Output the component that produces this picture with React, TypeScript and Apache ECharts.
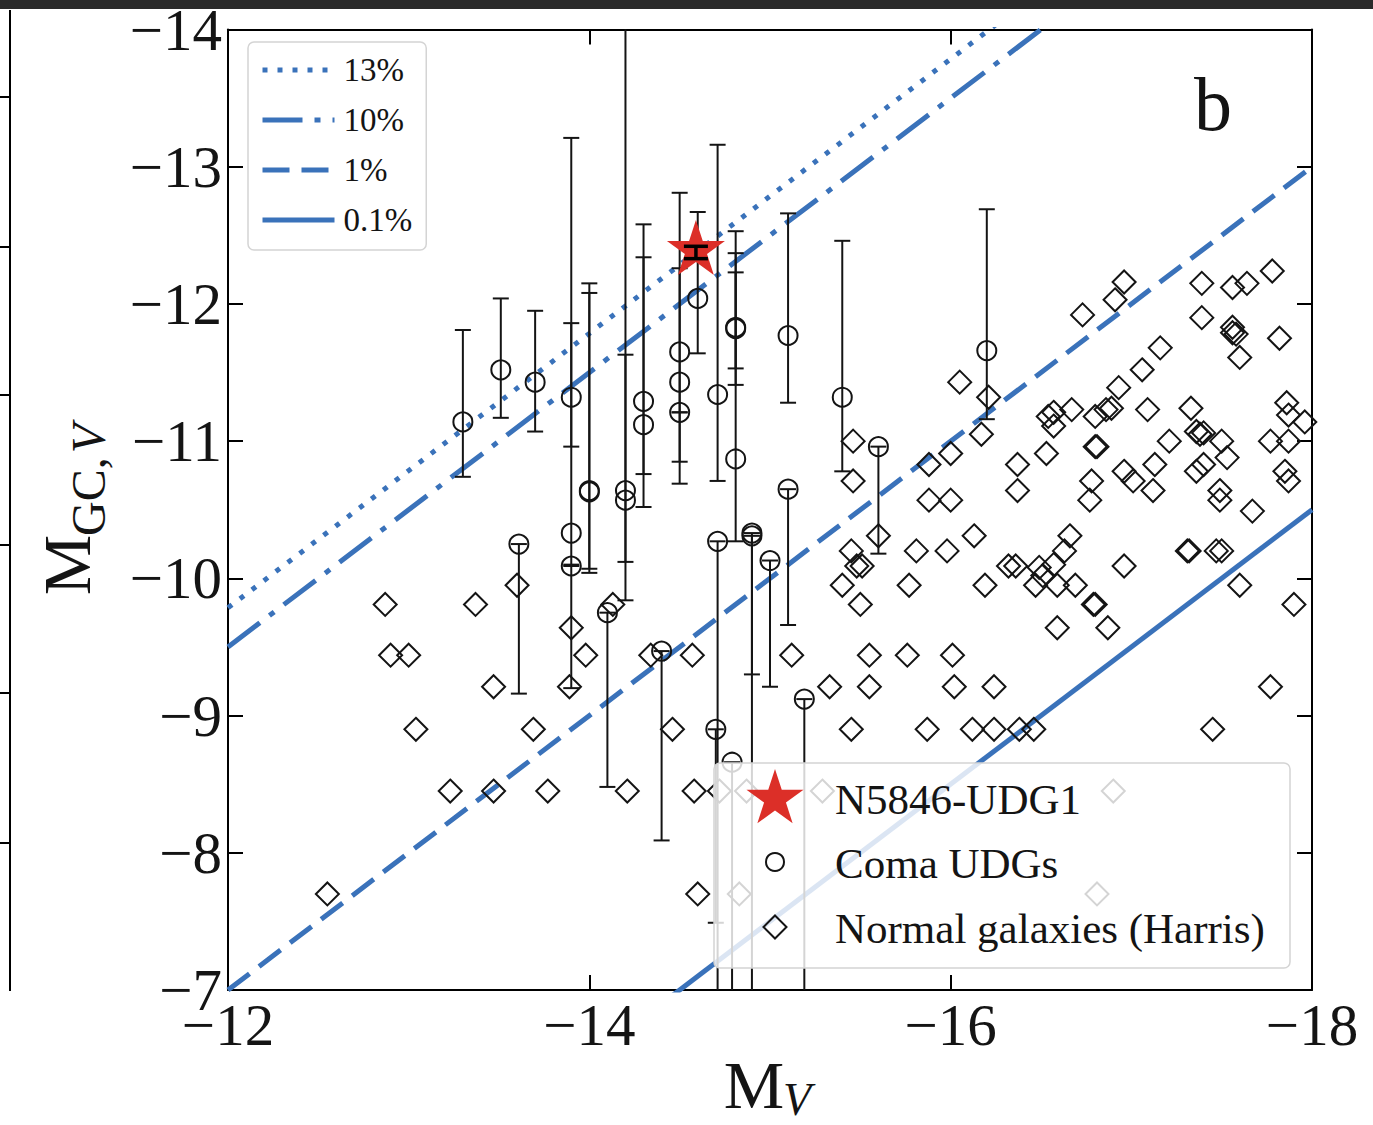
import React, { useEffect, useRef } from 'react';
import * as echarts from 'echarts';

// ---------- data ----------
// Normal galaxies (Harris): [M_V, M_GC,V]
const harrisGalaxies: number[][] = [
  [-12.55, -7.70], [-14.60, -7.70], [-14.83, -7.70], [-16.81, -7.70],
  [-13.23, -8.45], [-13.47, -8.45], [-13.77, -8.45], [-14.21, -8.45], [-14.58, -8.45], [-14.72, -8.45], [-14.87, -8.45], [-15.29, -8.45], [-16.90, -8.45],
  [-13.04, -8.90], [-13.69, -8.90], [-14.46, -8.90], [-15.45, -8.90], [-15.87, -8.90], [-16.12, -8.90], [-16.24, -8.90], [-16.38, -8.90], [-16.46, -8.90], [-17.45, -8.90],
  [-13.47, -9.21], [-13.89, -9.21], [-15.33, -9.21], [-15.55, -9.21], [-16.02, -9.21], [-16.24, -9.21], [-17.77, -9.21],
  [-12.90, -9.44], [-13.00, -9.44], [-13.98, -9.44], [-14.34, -9.44], [-14.57, -9.44], [-15.12, -9.44], [-15.55, -9.44], [-15.76, -9.44], [-16.01, -9.44],
  [-13.90, -9.64], [-16.59, -9.64], [-16.87, -9.64],
  [-12.87, -9.81], [-13.37, -9.81], [-14.13, -9.81], [-15.50, -9.81], [-16.79, -9.81], [-16.80, -9.81], [-17.90, -9.81],
  [-13.60, -9.95], [-15.40, -9.95], [-15.77, -9.95], [-16.19, -9.95], [-16.47, -9.95], [-16.59, -9.95], [-16.69, -9.95], [-17.60, -9.95],
  [-15.48, -10.09], [-15.51, -10.09], [-16.32, -10.09], [-16.36, -10.09], [-16.49, -10.08], [-16.57, -10.10], [-16.96, -10.09], [-16.51, -10.02],
  [-15.45, -10.20], [-15.81, -10.20], [-15.98, -10.20], [-16.63, -10.20], [-17.31, -10.20], [-17.32, -10.20], [-17.47, -10.20], [-17.50, -10.20],
  [-15.60, -10.31], [-16.13, -10.31], [-16.66, -10.31],
  [-17.67, -10.49],
  [-15.88, -10.57], [-16.00, -10.57], [-16.77, -10.57], [-17.49, -10.57],
  [-17.12, -10.64], [-17.49, -10.64], [-16.37, -10.64],
  [-15.46, -10.71], [-16.78, -10.71], [-17.01, -10.71], [-17.87, -10.71],
  [-16.96, -10.78], [-17.36, -10.78], [-17.85, -10.78],
  [-15.88, -10.83], [-16.37, -10.83], [-17.13, -10.83], [-17.40, -10.83],
  [-17.53, -10.88],
  [-16.00, -10.91], [-16.53, -10.91],
  [-16.80, -10.96], [-16.81, -10.96],
  [-15.46, -11.00], [-17.21, -11.00], [-17.50, -11.00], [-17.77, -11.00], [-17.87, -11.00],
  [-16.17, -11.05], [-17.36, -11.07], [-17.38, -11.05], [-17.40, -11.06],
  [-16.57, -11.11],
  [-17.96, -11.14],
  [-16.80, -11.18], [-16.54, -11.18],
  [-16.67, -11.23], [-16.86, -11.23], [-16.89, -11.24], [-17.09, -11.23], [-17.33, -11.24], [-17.86, -11.28], [-17.87, -11.19], [-16.57, -11.21],
  [-16.21, -11.32],
  [-16.93, -11.39],
  [-16.05, -11.43],
  [-17.06, -11.52],
  [-17.60, -11.61],
  [-17.16, -11.68],
  [-17.82, -11.75],
  [-17.56, -11.83], [-17.56, -11.79], [-17.58, -11.78],
  [-17.39, -11.90],
  [-16.73, -11.92],
  [-16.91, -12.03],
  [-16.96, -12.16], [-17.39, -12.15], [-17.56, -12.12], [-17.64, -12.15],
  [-17.78, -12.24],
];

// Coma UDGs: [M_V, M_GC,V, upper end of error bar, lower end of error bar]
const comaUDGs: number[][] = [
  [-13.30, -11.14, -11.81, -10.74],
  [-13.51, -11.52, -12.04, -11.17],
  [-13.61, -10.25, -10.25, -9.16],
  [-13.70, -11.43, -11.95, -11.07],
  [-13.90, -11.32, -11.86, -10.96],
  [-13.90, -10.33, -13.21, -10.10],
  [-13.90, -10.09, -10.09, -9.20],
  [-14.00, -10.64, -12.15, -10.04],
  [-14.00, -10.63, -12.08, -10.07],
  [-14.10, -9.75, -9.75, -8.48],
  [-14.20, -10.64, -14.60, -9.84],
  [-14.20, -10.57, -11.63, -10.12],
  [-14.30, -11.29, -12.58, -10.76],
  [-14.30, -11.12, -12.34, -10.52],
  [-14.40, -9.47, -9.47, -8.09],
  [-14.50, -11.65, -12.81, -10.69],
  [-14.50, -11.43, -12.26, -10.85],
  [-14.50, -11.21, -11.21, -11.21],
  [-14.60, -12.04, -12.67, -11.64],
  [-14.71, -11.34, -13.16, -10.71],
  [-14.71, -10.27, -10.27, -6.80],
  [-14.70, -8.90, -8.90, -7.49],
  [-14.81, -11.83, -12.53, -11.41],
  [-14.81, -11.82, -12.37, -11.53],
  [-14.81, -10.87, -12.23, -10.27],
  [-14.79, -8.66, -8.66, -6.80],
  [-14.90, -10.33, -10.33, -9.30],
  [-14.90, -10.31, -10.31, -6.80],
  [-15.00, -10.13, -10.13, -9.21],
  [-15.10, -11.77, -12.66, -11.28],
  [-15.10, -10.65, -10.65, -9.66],
  [-15.19, -9.12, -9.12, -6.80],
  [-15.40, -11.32, -12.46, -10.78],
  [-15.60, -10.96, -10.96, -10.18],
  [-16.20, -11.66, -12.69, -11.16],
];

// N5846-UDG1: [M_V, M_GC,V, upper, lower]
const n5846UDG1: number[][] = [[-14.59, -12.39, -12.42, -12.33]];

// GC luminosity-fraction lines, endpoints at M_V = -12 and -18
const line13pct = [[-12, -9.785], [-18, -15.785]];
const line10pct = [[-12, -9.5], [-18, -15.5]];
const line1pct = [[-12, -7.0], [-18, -13.0]];
const line01pct = [[-12, -4.5], [-18, -10.5]];

const xTickRange = { min: -18, max: -12, interval: 2 };
const yTickRange = { min: -14, max: -7, interval: 1 };

// ---------- styling ----------
const SERIF = '"Liberation Serif", "Times New Roman", serif';
const BLUE = '#3a72ba';
const INK = '#141414';
const RED = '#dc2f28';
const STAR_PATH =
  'path://M50,0 L61.23,34.55 L97.55,34.55 L68.17,55.9 L79.39,90.45 L50,69.1 L20.61,90.45 L31.83,55.9 L2.45,34.55 L38.77,34.55 Z';

const fmt = (v: number) => String(v).replace('-', '\u2212');

function errRender(capHalf: number, lw: number, color: string) {
  return (params: any, api: any) => {
    const x = api.value(0);
    const top = api.value(2);
    const bot = api.value(3);
    const pT = api.coord([x, top]);
    const pB = api.coord([x, bot]);
    const cs = params.coordSys;
    const yMin = cs.y;
    const yMax = cs.y + cs.height;
    const px = pT[0];
    const y1 = Math.max(yMin, Math.min(pT[1], pB[1]));
    const y2 = Math.min(yMax, Math.max(pT[1], pB[1]));
    const style = { stroke: color, lineWidth: lw };
    const children: any[] = [];
    if (y2 > y1) children.push({ type: 'line', shape: { x1: px, y1, x2: px, y2 }, style });
    [pT[1], pB[1]].forEach((y) => {
      if (y >= yMin - 0.5 && y <= yMax + 0.5)
        children.push({ type: 'line', shape: { x1: px - capHalf, y1: y, x2: px + capHalf, y2: y }, style });
    });
    return { type: 'group', children };
  };
}

function starPoints(cx: number, cy: number, R: number, r: number) {
  const pts: number[][] = [];
  for (let k = 0; k < 10; k++) {
    const a = ((-90 + k * 36) * Math.PI) / 180;
    const rad = k % 2 === 0 ? R : r;
    pts.push([cx + rad * Math.cos(a), cy + rad * Math.sin(a)]);
  }
  return pts;
}

const axisCommon = {
  axisLine: { show: true, lineStyle: { color: '#000', width: 2 } },
  axisTick: { show: true, inside: true, length: 15, lineStyle: { color: '#000', width: 2 } },
  splitLine: { show: false },
};

function buildOption(): any {
  const lineSeries = (name: string, data: number[][], type: any) => ({
    name,
    type: 'line',
    data,
    symbol: 'none',
    clip: true,
    z: 2,
    lineStyle: { color: BLUE, width: 5, type, cap: 'butt' },
    itemStyle: { color: BLUE },
    silent: true,
  });

  const legendBox = { x: 714, y: 763, w: 576, h: 205 };

  return {
    animation: false,
    backgroundColor: '#ffffff',
    grid: { left: 228, top: 22, width: 1084, height: 968, show: false },
    xAxis: [
      {
        type: 'value', ...xTickRange, inverse: true, position: 'bottom', ...axisCommon,
        axisLabel: { formatter: fmt, fontFamily: SERIF, fontSize: 59, color: INK, margin: 5 },
      },
      {
        type: 'value', ...xTickRange, inverse: true, position: 'top', ...axisCommon,
        axisLabel: { show: false },
      },
    ],
    yAxis: [
      {
        type: 'value', ...yTickRange, inverse: true, position: 'left', ...axisCommon,
        axisLabel: { formatter: fmt, fontFamily: SERIF, fontSize: 59, color: INK, margin: 6 },
      },
      {
        type: 'value', ...yTickRange, inverse: true, position: 'right', ...axisCommon,
        axisLabel: { show: false },
      },
    ],
    legend: {
      data: ['13%', '10%', '1%', '0.1%'],
      orient: 'vertical',
      left: 248,
      top: 42,
      itemWidth: 72,
      itemHeight: 14,
      itemGap: 14,
      padding: [10, 14, 12, 12],
      backgroundColor: 'rgba(255,255,255,0.85)',
      borderColor: '#d4d4d4',
      borderWidth: 1.5,
      borderRadius: 6,
      selectedMode: false,
      itemStyle: { opacity: 0, color: 'rgba(0,0,0,0)', borderWidth: 0 },
      lineStyle: { width: 5, cap: 'butt' },
      textStyle: { fontFamily: SERIF, fontSize: 33, color: INK, lineHeight: 36, padding: [0, 0, 0, 4] },
    },
    series: [
      lineSeries('13%', line13pct, [5, 10]),
      lineSeries('10%', line10pct, [40, 12, 6, 12]),
      lineSeries('1%', line1pct, [27, 12]),
      lineSeries('0.1%', line01pct, 'solid'),
      {
        name: 'Normal galaxies (Harris)',
        type: 'scatter',
        data: harrisGalaxies,
        symbol: 'diamond',
        symbolSize: 23,
        z: 3,
        itemStyle: { color: 'rgba(0,0,0,0)', borderColor: INK, borderWidth: 2, opacity: 1 },
        silent: true,
      },
      {
        name: 'Coma UDGs errors',
        type: 'custom',
        data: comaUDGs,
        encode: { x: 0, y: 1 },
        renderItem: errRender(8, 2, INK),
        z: 4,
        silent: true,
      },
      {
        name: 'Coma UDGs',
        type: 'scatter',
        data: comaUDGs.map((d) => [d[0], d[1]]),
        symbol: 'circle',
        symbolSize: 19,
        z: 5,
        itemStyle: { color: 'rgba(0,0,0,0)', borderColor: INK, borderWidth: 2, opacity: 1 },
        silent: true,
      },
      {
        name: 'N5846-UDG1',
        type: 'scatter',
        data: n5846UDG1.map((d) => [d[0], d[1]]),
        symbol: STAR_PATH,
        symbolSize: [58, 55],
        symbolOffset: [0, -3],
        z: 8,
        itemStyle: { color: RED, opacity: 1 },
        silent: true,
      },
      {
        name: 'N5846-UDG1 errors',
        type: 'custom',
        data: n5846UDG1,
        encode: { x: 0, y: 1 },
        renderItem: errRender(12, 3.5, '#000'),
        z: 9,
        silent: true,
      },
    ],
    graphic: [
      // axis titles
      {
        type: 'text', z: 50, x: 754, y: 1085,
        style: { text: 'M', font: `68px ${SERIF}`, fill: INK, align: 'center', verticalAlign: 'middle' },
      },
      {
        type: 'text', z: 50, x: 783, y: 1099,
        style: { text: 'V', font: `italic 46px ${SERIF}`, fill: INK, align: 'left', verticalAlign: 'middle' },
      },
      {
        type: 'text', z: 50, x: 67, y: 565, rotation: Math.PI / 2,
        style: { text: 'M', font: `68px ${SERIF}`, fill: INK, align: 'center', verticalAlign: 'middle' },
      },
      {
        type: 'text', z: 50, x: 88, y: 536, rotation: Math.PI / 2,
        style: {
          text: '{r|GC,}{i|V}',
          align: 'left',
          verticalAlign: 'middle',
          rich: {
            r: { fontFamily: SERIF, fontSize: 48, fill: INK },
            i: { fontFamily: SERIF, fontSize: 48, fontStyle: 'italic', fill: INK, padding: [0, 0, 0, 4] },
          },
        },
      },
      // panel letter
      {
        type: 'text', z: 50, x: 1213, y: 104,
        style: { text: 'b', font: `76px ${SERIF}`, fill: INK, align: 'center', verticalAlign: 'middle' },
      },
      // marker legend
      {
        type: 'group',
        z: 60,
        children: [
          {
            type: 'rect', z: 60,
            shape: { x: legendBox.x, y: legendBox.y, width: legendBox.w, height: legendBox.h, r: 6 },
            style: { fill: 'rgba(255,255,255,0.82)', stroke: '#d4d4d4', lineWidth: 1.5 },
          },
          {
            type: 'polygon', z: 61,
            shape: { points: starPoints(775, 799, 30, 11.5) },
            style: { fill: RED },
          },
          {
            type: 'circle', z: 61,
            shape: { cx: 775, cy: 862, r: 9 },
            style: { fill: 'none', stroke: INK, lineWidth: 2 },
          },
          {
            type: 'polygon', z: 61,
            shape: { points: [[775, 915.5], [786.5, 927], [775, 938.5], [763.5, 927]] },
            style: { fill: 'none', stroke: INK, lineWidth: 2 },
          },
          {
            type: 'text', z: 61, x: 835, y: 799,
            style: { text: 'N5846-UDG1', font: `43px ${SERIF}`, fill: INK, align: 'left', verticalAlign: 'middle' },
          },
          {
            type: 'text', z: 61, x: 835, y: 863,
            style: { text: 'Coma UDGs', font: `43px ${SERIF}`, fill: INK, align: 'left', verticalAlign: 'middle' },
          },
          {
            type: 'text', z: 61, x: 835, y: 928,
            style: { text: 'Normal galaxies (Harris)', font: `43px ${SERIF}`, fill: INK, align: 'left', verticalAlign: 'middle' },
          },
        ],
      },
      // fragment of neighbouring panel on the left
      {
        type: 'line', z: 40,
        shape: { x1: 10, y1: 10, x2: 10, y2: 991 },
        style: { stroke: '#000', lineWidth: 2 },
      },
      ...[97, 247, 395, 545, 693, 843].map((y) => ({
        type: 'line', z: 40,
        shape: { x1: 0, y1: y, x2: 10, y2: y },
        style: { stroke: '#000', lineWidth: 2 },
      })),
      // dark strip on top
      {
        type: 'rect', z: 200,
        shape: { x: 0, y: 0, width: 1373, height: 9 },
        style: { fill: '#2a2a2a' },
      },
    ],
  };
}

export default function App() {
  const ref = useRef<HTMLDivElement>(null);
  useEffect(() => {
    if (!ref.current) return;
    const chart = echarts.init(ref.current, null, { renderer: 'svg' });
    chart.setOption(buildOption());
    return () => chart.dispose();
  }, []);
  return (
    <div
      ref={ref}
      style={{ position: 'absolute', left: 0, top: 0, width: 1373, height: 1125, background: '#fff' }}
    />
  );
}
